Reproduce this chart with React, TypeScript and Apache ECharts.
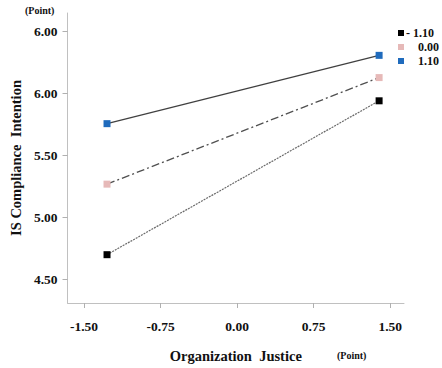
import React, { useEffect, useRef } from "react";
import * as echarts from "echarts";

const seriesNames = ["- 1.10", "\u00a0\u00a0\u00a0\u00a00.00", "\u00a0\u00a0\u00a0\u00a01.10"];
const xValues = [-1.275, 1.391];
const lowValues = [4.7, 5.939];
const midValues = [5.268, 6.126];
const highValues = [5.755, 6.305];
const xTickValues = [-1.5, -0.75, 0, 0.75, 1.5];
const xTickLabels = ["-1.50", "-0.75", "0.00", "0.75", "1.50"];
const yTickValues = [4.5, 5.0, 5.5, 6.0, 6.5];
const yTickLabels = ["4.50", "5.00", "5.50", "6.00", "6.00"];

const FONT = "'Liberation Serif', 'Times New Roman', serif";

export default function App() {
  const ref = useRef<HTMLDivElement>(null);
  useEffect(() => {
    document.body.style.margin = "0";
    const chart = echarts.init(ref.current!, null, { renderer: "svg" });
    const toPairs = (ys: number[]) => xValues.map((x, i) => [x, ys[i]]);
    const markerColors = ["#000000", "#e6b9b8", "#1f6bbd"];
    const lineStyles: any[] = [
      { color: "#6a6a6a", width: 1.2, type: [2, 1] },
      { color: "#505050", width: 1.3, type: [8, 3, 2, 3] },
      { color: "#404040", width: 1.3, type: "solid" },
    ];
    const allData = [lowValues, midValues, highValues];
    chart.setOption({
      animation: false,
      textStyle: { fontFamily: FONT },
      grid: { left: 63, right: 38, top: 13, bottom: 55.5 },
      legend: {
        orient: "vertical",
        left: 393,
        top: 22,
        itemGap: 2,
        itemWidth: 6,
        itemHeight: 6,
        icon: "rect",
        textStyle: { fontFamily: FONT, fontWeight: "bold", fontSize: 12, color: "#111", padding: [0, 0, 0, -3] },
        data: seriesNames,
      },
      xAxis: {
        type: "value",
        min: -1.662,
        max: 1.635,
        name: "Organization\u00a0\u00a0Justice",
        nameLocation: "middle",
        nameGap: 45,
        nameTextStyle: { fontFamily: FONT, fontWeight: "bold", fontSize: 14.5, color: "#111" },
        axisLine: { show: true, onZero: false, lineStyle: { color: "#c0c0c0", width: 1 } },
        axisTick: { show: true, length: 5, customValues: xTickValues, lineStyle: { color: "#b0b0b0" } },
        axisLabel: {
          customValues: xTickValues,
          formatter: (v: number) => xTickLabels[xTickValues.findIndex((t) => Math.abs(t - v) < 1e-6)] ?? "",
          fontFamily: FONT,
          fontWeight: "bold",
          fontSize: 13.5,
          color: "#111",
          margin: 16,
        },
        splitLine: { show: false },
      },
      yAxis: {
        type: "value",
        min: 4.311,
        max: 6.646,
        name: "IS Compliance\u00a0\u00a0Intention",
        nameLocation: "middle",
        nameGap: 44,
        nameRotate: 90,
        nameTextStyle: { fontFamily: FONT, fontWeight: "bold", fontSize: 14.5, color: "#111" },
        axisLine: { show: true, onZero: false, lineStyle: { color: "#c0c0c0", width: 1 } },
        axisTick: { show: true, length: 5, customValues: yTickValues, lineStyle: { color: "#b0b0b0" } },
        axisLabel: {
          customValues: yTickValues,
          formatter: (v: number) => yTickLabels[yTickValues.findIndex((t) => Math.abs(t - v) < 1e-6)] ?? "",
          fontFamily: FONT,
          fontWeight: "bold",
          fontSize: 13.5,
          color: "#111",
          margin: 10,
        },
        splitLine: { show: false },
      },
      graphic: [
        {
          type: "text",
          left: 25,
          top: 5,
          style: { text: "(Point)", font: `bold 10px ${FONT}`, fill: "#111" },
        },
        {
          type: "text",
          left: 337,
          top: 350,
          style: { text: "(Point)", font: `bold 10px ${FONT}`, fill: "#111" },
        },
      ],
      series: allData.map((ys, i) => ({
        type: "line",
        name: seriesNames[i],
        data: toPairs(ys),
        symbol: "rect",
        symbolSize: 7,
        itemStyle: { color: markerColors[i] },
        lineStyle: lineStyles[i],
      })),
    });
    return () => chart.dispose();
  }, []);
  return <div ref={ref} style={{ width: 442, height: 368 }} />;
}
